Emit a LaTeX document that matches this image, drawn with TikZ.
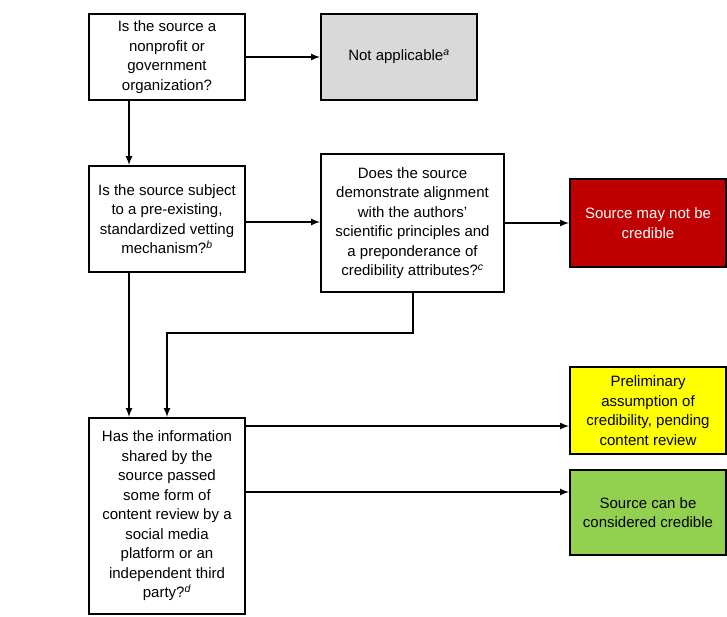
\documentclass[tikz,border=0pt]{standalone}
\usepackage{fontspec}
\setmainfont{Liberation Sans}
\usetikzlibrary{arrows}
\definecolor{naGray}{HTML}{D9D9D9}
\definecolor{noRed}{HTML}{C00000}
\definecolor{preYellow}{HTML}{FFFF00}
\definecolor{okGreen}{HTML}{92D050}
\newcommand{\fn}[1]{\textsuperscript{\textit{#1}}}

\begin{document}
\begin{tikzpicture}[x=1pt,y=-1pt,>=latex,
  box/.style={draw,line width=2pt,align=center,inner sep=0pt,
    font=\fontsize{15}{19.5}\selectfont},
  conn/.style={line width=2pt}]
  \useasboundingbox (0,0) rectangle (727,616);
  % questions
  \node[box,minimum width=156pt,minimum height=86pt] (org) at (167,57)
    {Is the source a\\nonprofit or\\government\\organization?};
  \node[box,minimum width=156pt,minimum height=106pt] (vet) at (167,219)
    {Is the source subject\\to a pre-existing,\\standardized vetting\\mechanism?\fn{b}};
  \node[box,minimum width=183pt,minimum height=138pt] (align) at (412.5,223)
    {Does the source\\demonstrate alignment\\with the authors’\\scientific principles and\\a preponderance of\\credibility attributes?\fn{c}};
  \node[box,minimum width=156pt,minimum height=196pt] (review) at (167,516)
    {Has the information\\shared by the\\source passed\\some form of\\content review by a\\social media\\platform or an\\independent third\\party?\fn{d}};
  % outcomes
  \node[box,fill=naGray,minimum width=156pt,minimum height=86pt] (na) at (399,57)
    {Not applicable\fn{a}};
  \node[box,fill=noRed,text=white,minimum width=156pt,minimum height=88pt] (red) at (648,223)
    {Source may not be\\credible};
  \node[box,fill=preYellow,minimum width=156pt,minimum height=87pt] (yellow) at (648,410.5)
    {Preliminary\\assumption of\\credibility, pending\\content review};
  \node[box,fill=okGreen,minimum width=156pt,minimum height=85pt] (green) at (648,512.5)
    {Source can be\\considered credible};
  % connectors
  \draw[conn,->] (org) -- (na);
  \draw[conn,->] ([xshift=-38pt]org.south) -- ([xshift=-38pt]vet.north);
  \draw[conn,->] ([yshift=-3pt]vet.east) -- ([yshift=-3pt]vet.east -| align.west);
  \draw[conn,->] (align) -- (red);
  \draw[conn,->] ([xshift=-38pt]vet.south) -- ([xshift=-38pt]review.north);
  \draw[conn,->] (align.south) -- ++(0,40) -| (review.north);
  \draw[conn,->] ([yshift=-9pt]review.north east) -- ([yshift=-9pt]review.north east -| yellow.west);
  \draw[conn,->] ([yshift=-75pt]review.north east) -- ([yshift=-75pt]review.north east -| green.west);
\end{tikzpicture}
\end{document}
